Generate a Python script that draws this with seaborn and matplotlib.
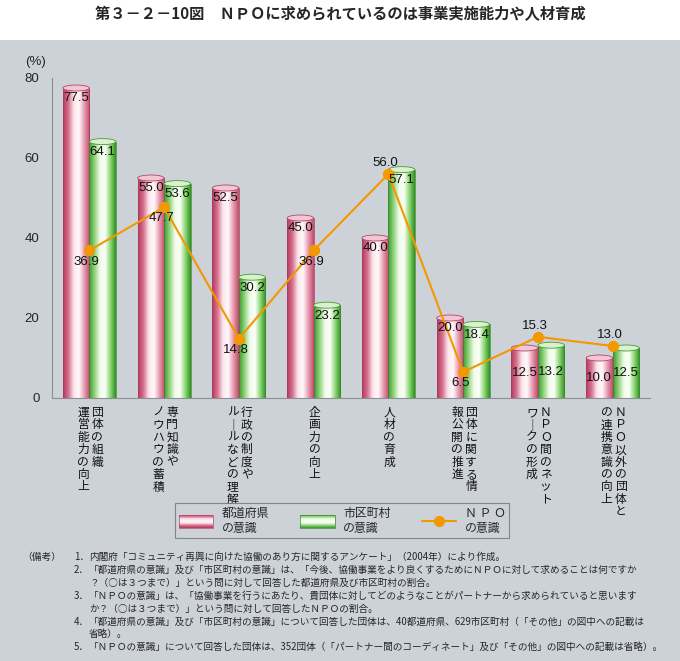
import numpy as np
import pandas as pd
import matplotlib
matplotlib.use("Agg")
import matplotlib.pyplot as plt
import seaborn as sns
from matplotlib.colors import LinearSegmentedColormap
from matplotlib.patches import Ellipse, Rectangle, Patch
from matplotlib.lines import Line2D
from matplotlib.legend_handler import HandlerBase

# データ
categories = ["団体の組織\n運営能力の向上", "専門知識や\nノウハウの蓄積", "行政の制度や\nルールなどの理解",
              "企画力の向上", "人材の育成", "団体に関する情\n報公開の推進",
              "ＮＰＯ間のネット\nワークの形成", "ＮＰＯ以外の団体と\nの連携意識の向上"]
pref = [77.5, 55.0, 52.5, 45.0, 40.0, 20.0, 12.5, 10.0]
muni = [64.1, 53.6, 30.2, 23.2, 57.1, 18.4, 13.2, 12.5]
npo = [36.9, 47.7, 14.8, 36.9, 56.0, 6.5, 15.3, 13.0]
series_names = ["都道府県\nの意識", "市区町村\nの意識", "Ｎ Ｐ Ｏ\nの意識"]
npo_label_side = ["below", "below", "below", "below", "above", "below", "above", "above"]
yticks = [0, 20, 40, 60, 80]

title = "第３－２－10図　ＮＰＯに求められているのは事業実施能力や人材育成"
notes = [
    ("（備考）", "1．", "内閣府「コミュニティ再興に向けた協働のあり方に関するアンケート」（2004年）により作成。"),
    ("", "2．", "「都道府県の意識」及び「市区町村の意識」は、「今後、協働事業をより良くするためにＮＰＯに対して求めることは何ですか"),
    ("", "", "？（○は３つまで）」という問に対して回答した都道府県及び市区町村の割合。"),
    ("", "3．", "「ＮＰＯの意識」は、「協働事業を行うにあたり、貴団体に対してどのようなことがパートナーから求められていると思います"),
    ("", "", "か？（○は３つまで）」という問に対して回答したＮＰＯの割合。"),
    ("", "4．", "「都道府県の意識」及び「市区町村の意識」について回答した団体は、40都道府県、629市区町村（「その他」の図中への記載は"),
    ("", "", "省略）。"),
    ("", "5．", "「ＮＰＯの意識」について回答した団体は、352団体（「パートナー間のコーディネート」及び「その他」の図中への記載は省略）。"),
]

BG = "#cdd2d9"
PINK = "#d86a8a"
GREEN = "#5cb848"
ORANGE = "#f39800"

pink_cmap = LinearSegmentedColormap.from_list(
    "pink", ["#b23a5e", "#d8708f", "#fbe6ec", "#fff8fa", "#e79ab0", "#c04a6c"])
green_cmap = LinearSegmentedColormap.from_list(
    "green", ["#3c9a2c", "#8fd27a", "#effbe8", "#fbfff8", "#8bd672", "#2f8f22"])

sns.set_theme(style="white")
plt.rcParams['font.family'] = ['Noto Sans CJK JP', 'DejaVu Sans']
NUMFONT = ['Liberation Sans', 'DejaVu Sans']

df = pd.DataFrame({
    "項目": categories * 2,
    "系列": [series_names[0]] * len(pref) + [series_names[1]] * len(muni),
    "値": pref + muni,
})
df_npo = pd.DataFrame({"項目": categories, "値": npo})

fig = plt.figure(figsize=(6.8, 6.61), dpi=100)
fig.patches.append(Rectangle((0, 0), 1, (661 - 40) / 661, transform=fig.transFigure,
                             facecolor=BG, edgecolor="none", zorder=-10))
ax = fig.add_axes([52 / 680, 263 / 661, 598 / 680, 320 / 661])
ax.set_facecolor("none")

sns.barplot(data=df, x="項目", y="値", hue="系列", palette=[PINK, GREEN], width=0.71,
            saturation=1, legend=False, ax=ax, zorder=2)

# 円柱風のグラデーション
grad = np.linspace(0, 1, 128).reshape(1, -1)
for patch in list(ax.patches):
    x0, w, h = patch.get_x(), patch.get_width(), patch.get_height()
    is_pink = np.allclose(patch.get_facecolor()[:3], matplotlib.colors.to_rgb(PINK), atol=0.02)
    cmap = pink_cmap if is_pink else green_cmap
    im = ax.imshow(grad, extent=[x0, x0 + w, 0, h], aspect="auto", cmap=cmap,
                   origin="lower", interpolation="bilinear", zorder=2.1)
    im.set_clip_path(patch)
    patch.set_facecolor("none")
    patch.set_edgecolor("#a83a5a" if is_pink else "#3a8a2a")
    patch.set_linewidth(0.5)
    patch.set_zorder(2.2)
    ax.add_patch(Ellipse((x0 + w / 2, h), w, 1.5,
                         facecolor="#f3c6d3" if is_pink else "#d9f1cc",
                         edgecolor="#b04868" if is_pink else "#4a9a38",
                         linewidth=0.6, zorder=2.3))
    # 値ラベル
    ylab = h - 2.6 if h >= 15 else h / 2
    ax.text(x0 + w / 2, ylab, f"{h:.1f}", ha="center", va="center", fontsize=9.5,
            family=NUMFONT, color="#111111", zorder=5)

# NPOの意識（折れ線）
sns.pointplot(data=df_npo, x="項目", y="値", color=ORANGE, errorbar=None, markers="o",
              markersize=7, linewidth=1.5, ax=ax, zorder=4)
for i, (v, side) in enumerate(zip(npo, npo_label_side)):
    dy = 8 if side == "above" else -8
    ax.annotate(f"{v:.1f}", (i, v), xytext=(-2, dy), textcoords="offset points",
                ha="center", va="center", fontsize=9.5, family=NUMFONT, color="#111111", zorder=5)

ax.set_xlim(-0.5, len(categories) - 0.5)
ax.set_ylim(0, 80)
ax.set_yticks(yticks)
ax.set_yticklabels([str(t) for t in yticks], fontsize=9.5, family=NUMFONT)
ax.tick_params(axis="y", length=0, pad=9)
ax.set_xticks(range(len(categories)))
ax.set_xticklabels([])
ax.tick_params(axis="x", length=0)
ax.set_xlabel("")
ax.set_ylabel("")
for s in ["top", "right"]:
    ax.spines[s].set_visible(False)
for s in ["left", "bottom"]:
    ax.spines[s].set_color("#8a8f96")
    ax.spines[s].set_linewidth(0.8)
ax.text(-0.028, 1.05, "(%)", transform=ax.transAxes, ha="center", va="center", fontsize=9.5, family=NUMFONT)

# 縦書きの項目ラベル（右の列から読む）
char_step = 12.4 * 0.72
for i, cat in enumerate(categories):
    cols = cat.split("\n")
    n = len(cols)
    for j, col in enumerate(cols):
        dx = ((n - 1) / 2 - j) * 14 * 0.72 + 0.7
        for k, ch in enumerate(col.replace("ー", "｜")):
            ax.annotate(ch, (i, 0), xycoords=("data", "axes fraction"),
                        xytext=(dx, -10.5 - k * char_step), textcoords="offset points",
                        ha="center", va="center", fontsize=8.5, color="#111111")


# 凡例
class GradientHandler(HandlerBase):
    def __init__(self, cmap, edge):
        super().__init__()
        self.cmap = cmap
        self.edge = edge

    def create_artists(self, legend, orig_handle, xdescent, ydescent, width, height, fontsize, trans):
        arts = []
        n = 24
        for r in range(n):
            t = abs((r + 0.5) / n - 0.55) / 0.55
            arts.append(Rectangle((-xdescent, -ydescent + height * r / n), width, height / n + 0.3,
                                  facecolor=self.cmap(0.55 - 0.55 * t), edgecolor="none", transform=trans))
        arts.append(Rectangle((-xdescent, -ydescent), width, height, fill=False,
                              edgecolor=self.edge, linewidth=0.5, transform=trans))
        return arts


h_pink = Patch(label=series_names[0])
h_green = Patch(label=series_names[1])
h_npo = Line2D([], [], color=ORANGE, marker="o", markersize=7, linewidth=1.5, label=series_names[2])
leg = fig.legend(handles=[h_pink, h_green, h_npo], loc="upper left",
                 bbox_to_anchor=(175 / 680, 1 - 503 / 661), ncol=3, fontsize=8.6,
                 frameon=True, fancybox=False, edgecolor="#6e7378", facecolor=BG,
                 handlelength=2.9, handleheight=1.2, columnspacing=2.6, handletextpad=0.7,
                 borderpad=0.3, borderaxespad=0, labelspacing=0.2,
                 handler_map={h_pink: GradientHandler(pink_cmap, "#b04868"),
                              h_green: GradientHandler(green_cmap, "#3a8a2a")})
leg.get_frame().set_linewidth(0.8)

# タイトル
fig.text(0.5, 1 - 14 / 661, title, ha="center", va="center", fontsize=11, fontweight="bold")

# 備考
ys = [557, 570, 583, 596, 609, 622, 634, 647]
for (head, num, body), y in zip(notes, ys):
    fy = 1 - y / 661
    if head:
        fig.text(22 / 680, fy, head, ha="left", va="center", fontsize=7.0)
    if num:
        fig.text(74 / 680, fy, num, ha="left", va="center", fontsize=7.0)
    fig.text(89 / 680, fy, body, ha="left", va="center", fontsize=6.95)

fig.savefig("out.png", dpi=100, facecolor="white")
